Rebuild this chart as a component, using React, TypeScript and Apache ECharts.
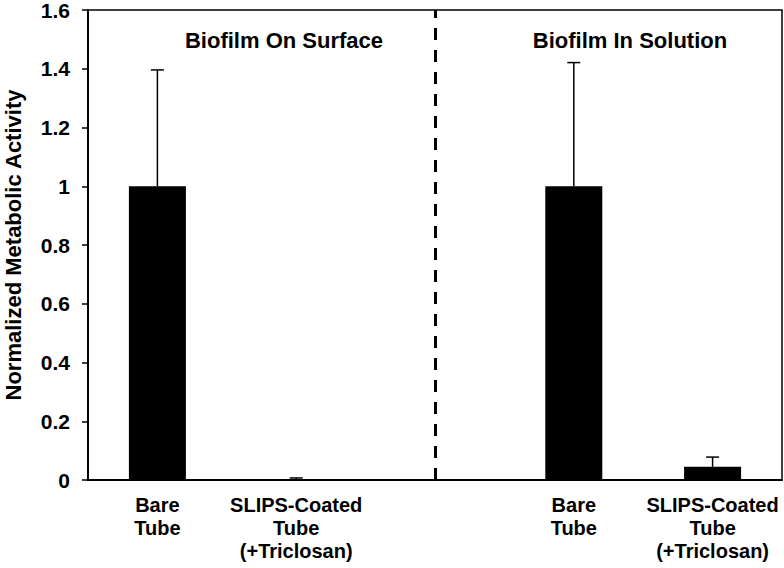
import React, { useEffect, useRef } from "react";
import * as echarts from "echarts";

const categories = [
  "Bare\nTube",
  "SLIPS-Coated\nTube\n(+Triclosan)",
  "",
  "Bare\nTube",
  "SLIPS-Coated\nTube\n(+Triclosan)",
];
const means: (number | null)[] = [1, 0.002, null, 1, 0.045];
const errorTops: (number | null)[] = [1.396, 0.007, null, 1.421, 0.078];
const panelTitles = ["Biofilm On Surface", "Biofilm In Solution"];
const dividerIndex = 2;
const yAxisTitle = "Normalized Metabolic Activity";

const FONT = "'Liberation Sans', Arial, Helvetica, sans-serif";

export default function App() {
  const ref = useRef<HTMLDivElement>(null);
  useEffect(() => {
    if (!ref.current) return;
    const chart = echarts.init(ref.current, undefined, { renderer: "svg" });
    const errData = means
      .map((m, i) => (m === null || errorTops[i] === null ? null : [i, m, errorTops[i]]))
      .filter((d) => d !== null);
    chart.setOption({
      animation: false,
      textStyle: { fontFamily: FONT },
      grid: {
        left: 88,
        right: 2,
        top: 10,
        bottom: 88,
        show: true,
        borderColor: "#000",
        borderWidth: 1.5,
        containLabel: false,
        outerBoundsMode: "none",
      },
      xAxis: {
        type: "category",
        data: categories,
        axisLine: { lineStyle: { color: "#000", width: 2 } },
        axisTick: { show: false },
        axisLabel: {
          color: "#000",
          fontSize: 20,
          fontWeight: "bold",
          lineHeight: 23,
          margin: 13,
          interval: 0,
          fontFamily: FONT,
        },
      },
      yAxis: {
        type: "value",
        min: 0,
        max: 1.6,
        interval: 0.2,
        name: yAxisTitle,
        nameLocation: "middle",
        nameGap: 64,
        nameTextStyle: { color: "#000", fontSize: 22, fontWeight: "bold", fontFamily: FONT },
        axisLine: { show: true, lineStyle: { color: "#000", width: 2 } },
        axisTick: { show: true, inside: false, length: 6, lineStyle: { color: "#000", width: 1.5 } },
        splitLine: { show: false },
        axisLabel: { color: "#000", fontSize: 21, fontWeight: "bold", margin: 18, fontFamily: FONT },
      },
      graphic: [
        {
          type: "text",
          x: 284,
          y: 40,
          style: {
            text: panelTitles[0],
            fill: "#000",
            font: `bold 22px ${FONT}`,
            textAlign: "center",
            textVerticalAlign: "middle",
          },
        },
        {
          type: "text",
          x: 630,
          y: 40,
          style: {
            text: panelTitles[1],
            fill: "#000",
            font: `bold 22px ${FONT}`,
            textAlign: "center",
            textVerticalAlign: "middle",
          },
        },
      ],
      series: [
        {
          type: "bar",
          data: means.map((m) => (m === null ? "-" : m)),
          barWidth: 57,
          itemStyle: { color: "#000" },
          markLine: {
            silent: true,
            symbol: "none",
            label: { show: false },
            lineStyle: { color: "#000", width: 3, type: [12, 10] },
            data: [{ xAxis: dividerIndex }],
          },
        },
        {
          type: "custom",
          data: errData,
          z: 5,
          renderItem: (params: any, api: any) => {
            const x = api.value(0);
            const lo = api.coord([x, api.value(1)]);
            const hi = api.coord([x, api.value(2)]);
            const half = 6.5;
            const style = { stroke: "#000", lineWidth: 1.5 };
            return {
              type: "group",
              children: [
                { type: "line", shape: { x1: lo[0], y1: lo[1], x2: hi[0], y2: hi[1] }, style },
                { type: "line", shape: { x1: hi[0] - half, y1: hi[1], x2: hi[0] + half, y2: hi[1] }, style },
              ],
            };
          },
        },
      ],
    });
    return () => chart.dispose();
  }, []);
  return (
    <div
      ref={ref}
      style={{ position: "absolute", left: 0, top: 0, width: 784, height: 568 }}
    />
  );
}
